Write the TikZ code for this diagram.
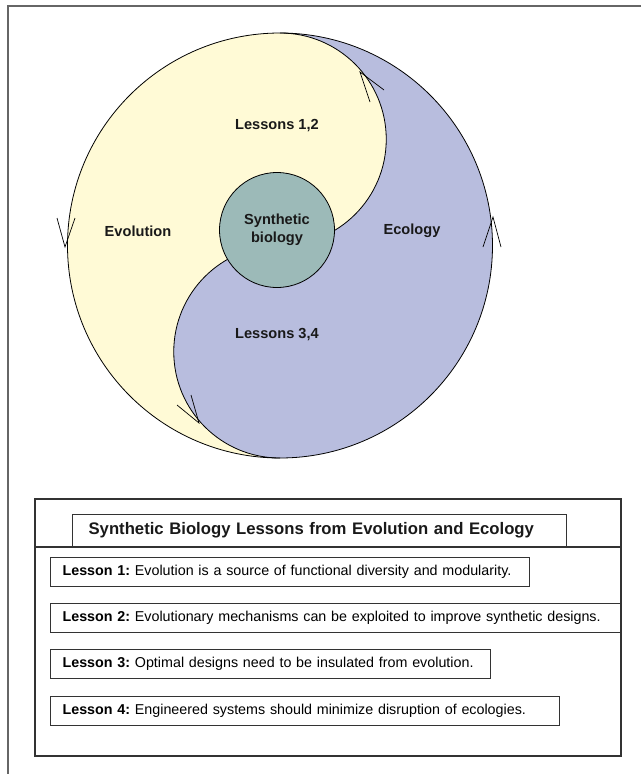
\documentclass[tikz,border=0pt]{standalone}
\usepackage{fontspec}
\setmainfont{Liberation Sans}
\usetikzlibrary{positioning}
\definecolor{cream}{rgb}{1.0, 0.98, 0.84}
\definecolor{lavender}{rgb}{0.72, 0.74, 0.87}
\definecolor{sage}{rgb}{0.61, 0.73, 0.72}
\definecolor{frameGrey}{rgb}{0.4, 0.4, 0.4}

\begin{document}
\begin{tikzpicture}[x=1pt, y=1pt,
		outline/.style={line width=0.8pt, draw=black},
		barb/.style={line width=0.7pt, black},
		frameLine/.style={line width=2.2pt, draw=frameGrey},
		boxLine/.style={line width=1.2pt, draw=black!80},
		yyText/.style={font=\fontsize{14.6}{18}\selectfont\bfseries, text=black!90, align=center},
		headBox/.style={draw, boxLine, anchor=south west, minimum height=32, inner xsep=16, text width=462, align=left, text=black!90, font=\fontsize{16.7}{20}\selectfont\bfseries},
		lessonBox/.style={draw, boxLine, anchor=north west, minimum height=29, inner xsep=12, align=left, text=black, font=\fontsize{14.3}{17}\selectfont\frenchspacing}]
		
		\useasboundingbox (0,0) rectangle (641,-774);
		
		\draw [frameLine] (641,-6) -- (8,-6) -- (8,-774);
		
		\coordinate (centre) at (280,-245.5);
		\coordinate (top) at (280,-33);
		\coordinate (bottom) at (280,-458);
		
		% the two halves
		\fill [cream] (top) arc [start angle=90, end angle=270, radius=212.5]
			arc [start angle=270, end angle=90, radius=106.25]
			arc [start angle=-90, end angle=90, radius=106.25] -- cycle;
		\fill [lavender] (top) arc [start angle=90, end angle=-90, radius=212.5]
			arc [start angle=270, end angle=90, radius=106.25]
			arc [start angle=-90, end angle=90, radius=106.25] -- cycle;
		
		\draw [outline] (centre) circle [radius=212.5];
		\draw [outline] (bottom) arc [start angle=270, end angle=90, radius=106.25]
			arc [start angle=-90, end angle=90, radius=106.25];
		
		% open arrow heads
		\draw [barb] (57,-218) -- (65,-247) -- (75,-218);
		\draw [barb] (483,-247) -- (493,-217) -- (501,-247);
		\draw [barb] (384,-90) -- (360,-72) -- (370,-102);
		\draw [barb] (177,-405) -- (199,-423) -- (191,-395);
		
		\node [circle, outline, fill=sage, minimum size=115, inner sep=0, yyText] (synBio) at (277,-230) {Synthetic\\biology};
		\node [yyText] (evolution) at (138,-231) {Evolution};
		\node [yyText] (ecology) at (412,-231) {Ecology};
		\node [yyText] (lessonsA) at (277,-126) {Lessons 1,2};
		\node [yyText] (lessonsB) at (277,-335) {Lessons 3,4};
		
		% lessons panel
		\draw [boxLine] (35,-499) rectangle (621,-756);
		\draw [boxLine] (35,-547) -- (621,-547);
		\node [headBox] (heading) at (72,-547) {Synthetic Biology Lessons from Evolution and Ecology};
		
		\node [lessonBox, text width=455] (lesson1) at (50,-557) {\mbox{\textbf{Lesson 1:} Evolution is a source of functional diversity and modularity.}};
		\node [lessonBox, text width=547] (lesson2) at (50,-603) {\mbox{\textbf{Lesson 2:} Evolutionary mechanisms can be exploited to improve synthetic designs.}};
		\node [lessonBox, text width=416] (lesson3) at (50,-649) {\mbox{\textbf{Lesson 3:} Optimal designs need to be insulated from evolution.}};
		\node [lessonBox, text width=485] (lesson4) at (50,-696) {\mbox{\textbf{Lesson 4:} Engineered systems should minimize disruption of ecologies.}};
	\end{tikzpicture}
\end{document}
